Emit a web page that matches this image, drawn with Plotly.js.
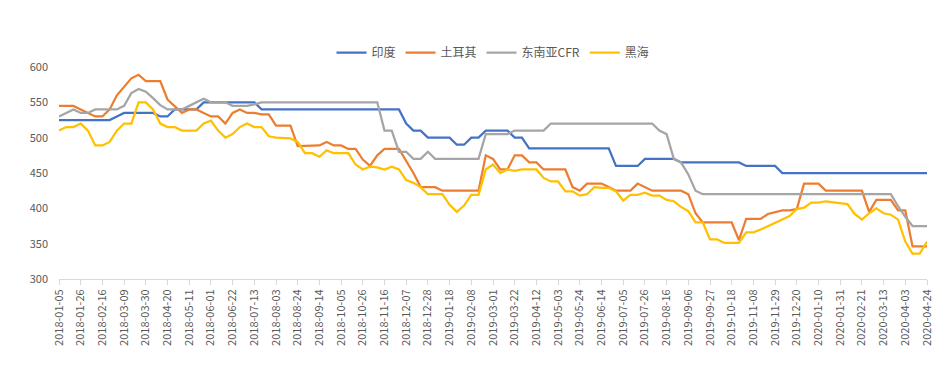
<!DOCTYPE html>
<html>
<head>
<meta charset="utf-8">
<script src="https://cdn.plot.ly/plotly-3.0.1.min.js"></script>
<style>html,body{margin:0;padding:0;background:#fff;}#chart{width:946px;height:380px;}</style>
</head>
<body>
<div id="chart"></div>
<script>
const dates = [
"2018-01-05","2018-01-12","2018-01-19","2018-01-26","2018-02-02","2018-02-09","2018-02-16","2018-02-23",
"2018-03-02","2018-03-09","2018-03-16","2018-03-23","2018-03-30","2018-04-06","2018-04-13","2018-04-20","2018-04-27",
"2018-05-04","2018-05-11","2018-05-18","2018-05-25","2018-06-01","2018-06-08","2018-06-15","2018-06-22","2018-06-29",
"2018-07-06","2018-07-13","2018-07-20","2018-07-27","2018-08-03","2018-08-10","2018-08-17","2018-08-24","2018-08-31",
"2018-09-07","2018-09-14","2018-09-21","2018-09-28","2018-10-05","2018-10-12","2018-10-19","2018-10-26",
"2018-11-02","2018-11-09","2018-11-16","2018-11-23","2018-11-30","2018-12-07","2018-12-14","2018-12-21","2018-12-28",
"2019-01-04","2019-01-11","2019-01-18","2019-01-25","2019-02-01","2019-02-08","2019-02-15","2019-02-22",
"2019-03-01","2019-03-08","2019-03-15","2019-03-22","2019-03-29","2019-04-05","2019-04-12","2019-04-19","2019-04-26",
"2019-05-03","2019-05-10","2019-05-17","2019-05-24","2019-05-31","2019-06-07","2019-06-14","2019-06-21","2019-06-28",
"2019-07-05","2019-07-12","2019-07-19","2019-07-26","2019-08-02","2019-08-09","2019-08-16","2019-08-23","2019-08-30",
"2019-09-06","2019-09-13","2019-09-20","2019-09-27","2019-10-04","2019-10-11","2019-10-18","2019-10-25",
"2019-11-01","2019-11-08","2019-11-15","2019-11-22","2019-11-29","2019-12-06","2019-12-13","2019-12-20","2019-12-27",
"2020-01-03","2020-01-10","2020-01-17","2020-01-24","2020-01-31","2020-02-07","2020-02-14","2020-02-21","2020-02-28",
"2020-03-06","2020-03-13","2020-03-20","2020-03-27","2020-04-03","2020-04-10","2020-04-17","2020-04-24"
];

const india = [
525,525,525,525,525,525,525,525,530,535,535,535,535,535,530,530,540,540,540,540,
550,550,550,550,550,550,550,550,540,540,540,540,540,540,540,540,540,540,540,540,
540,540,540,540,540,540,540,540,520,510,510,500,500,500,500,490,490,500,500,510,
510,510,510,500,500,485,485,485,485,485,485,485,485,485,485,485,485,460,460,460,
460,470,470,470,470,470,465,465,465,465,465,465,465,465,465,460,460,460,460,460,
450,450,450,450,450,450,450,450,450,450,450,450,450,450,450,450,450,450,450,450,450
];

const turkey = [
545,545,545,540,535,530,530,540,560,572,584,589,580,580,580,554,545,535,540,540,
535,530,530,520,535,540,535,535,533,533,517,517,517,488,488,488,489,494,489,489,
484,484,469,460,475,484,484,484,467,450,430,430,430,425,425,425,425,425,425,475,
470,455,455,475,475,465,465,455,455,455,455,430,425,435,435,435,430,425,425,425,
435,430,425,425,425,425,425,420,393,380,380,380,380,380,355,385,385,385,392,394,
397,397,399,435,435,435,425,425,425,425,425,425,395,412,412,412,397,397,346,346,346
];

const seaCFR = [
530,535,540,535,535,540,540,540,540,545,563,569,565,556,546,540,540,540,545,550,
555,550,550,550,545,545,545,547,550,550,550,550,550,550,550,550,550,550,550,550,
550,550,550,550,550,510,510,480,480,470,470,480,470,470,470,470,470,470,470,505,
505,505,505,510,510,510,510,510,520,520,520,520,520,520,520,520,520,520,520,520,
520,520,520,510,505,470,465,448,425,420,420,420,420,420,420,420,420,420,420,420,
420,420,420,420,420,420,420,420,420,420,420,420,420,420,420,420,403,388,375,375,375
];

const blackSea = [
510,515,515,520,510,489,489,494,510,520,520,550,550,540,520,515,515,510,510,510,
520,524,510,500,505,515,520,515,515,502,500,499,499,494,478,478,473,482,478,478,
478,462,455,459,458,455,459,455,440,436,430,420,420,420,405,395,404,419,419,455,
462,450,455,453,455,455,455,443,438,438,424,424,418,420,430,429,429,424,411,419,
419,422,418,418,412,410,402,396,380,380,356,356,351,351,351,366,366,370,375,380,
385,389,399,401,408,408,410,409,407,406,392,384,393,400,393,391,384,353,336,336,353
];

const seriesNames = ["印度","土耳其","东南亚CFR","黑海"];
const seriesColors = ["#4472C4","#ED7D31","#A5A5A5","#FFC000"];
const seriesData = [india, turkey, seaCFR, blackSea];

const tickLabels = dates.filter((d, i) => i % 3 === 0);
const yTicks = [300,350,400,450,500,550,600];

const traces = seriesData.map((ys, k) => ({
  type: "scatter",
  mode: "lines",
  name: seriesNames[k],
  x: dates,
  y: ys,
  line: {color: seriesColors[k], width: 2.25, shape: "linear"},
  hoverinfo: "skip"
}));

const font = "'Noto Sans CJK SC', 'Noto Sans', sans-serif";

const layout = {
  width: 946,
  height: 380,
  margin: {l: 59, r: 19, t: 67, b: 101, pad: 0},
  paper_bgcolor: "#ffffff",
  plot_bgcolor: "#ffffff",
  font: {family: font, size: 11, color: "#595959"},
  showlegend: true,
  legend: {
    orientation: "h",
    x: 0.5, xanchor: "center",
    y: 1.0, yanchor: "bottom",
    yref: "paper",
    font: {family: font, size: 12, color: "#595959"},
    itemwidth: 30
  },
  xaxis: {
    type: "category",
    range: [0, dates.length - 1],
    tickmode: "array",
    tickvals: tickLabels,
    ticktext: tickLabels,
    tickangle: -90,
    showgrid: false,
    zeroline: false,
    showline: true,
    linecolor: "#D9D9D9",
    linewidth: 1,
    ticks: "outside",
    ticklen: 5,
    tickcolor: "#D9D9D9",
    tickfont: {family: font, size: 11, color: "#595959"}
  },
  yaxis: {
    range: [300, 600],
    tickmode: "array",
    tickvals: yTicks,
    ticktext: yTicks.map(String),
    showgrid: false,
    zeroline: false,
    showline: false,
    ticks: "",
    ticklabelstandoff: 10,
    tickfont: {family: font, size: 11, color: "#595959"}
  }
};

Plotly.newPlot("chart", traces, layout, {staticPlot: true, displayModeBar: false});
</script>
</body>
</html>
